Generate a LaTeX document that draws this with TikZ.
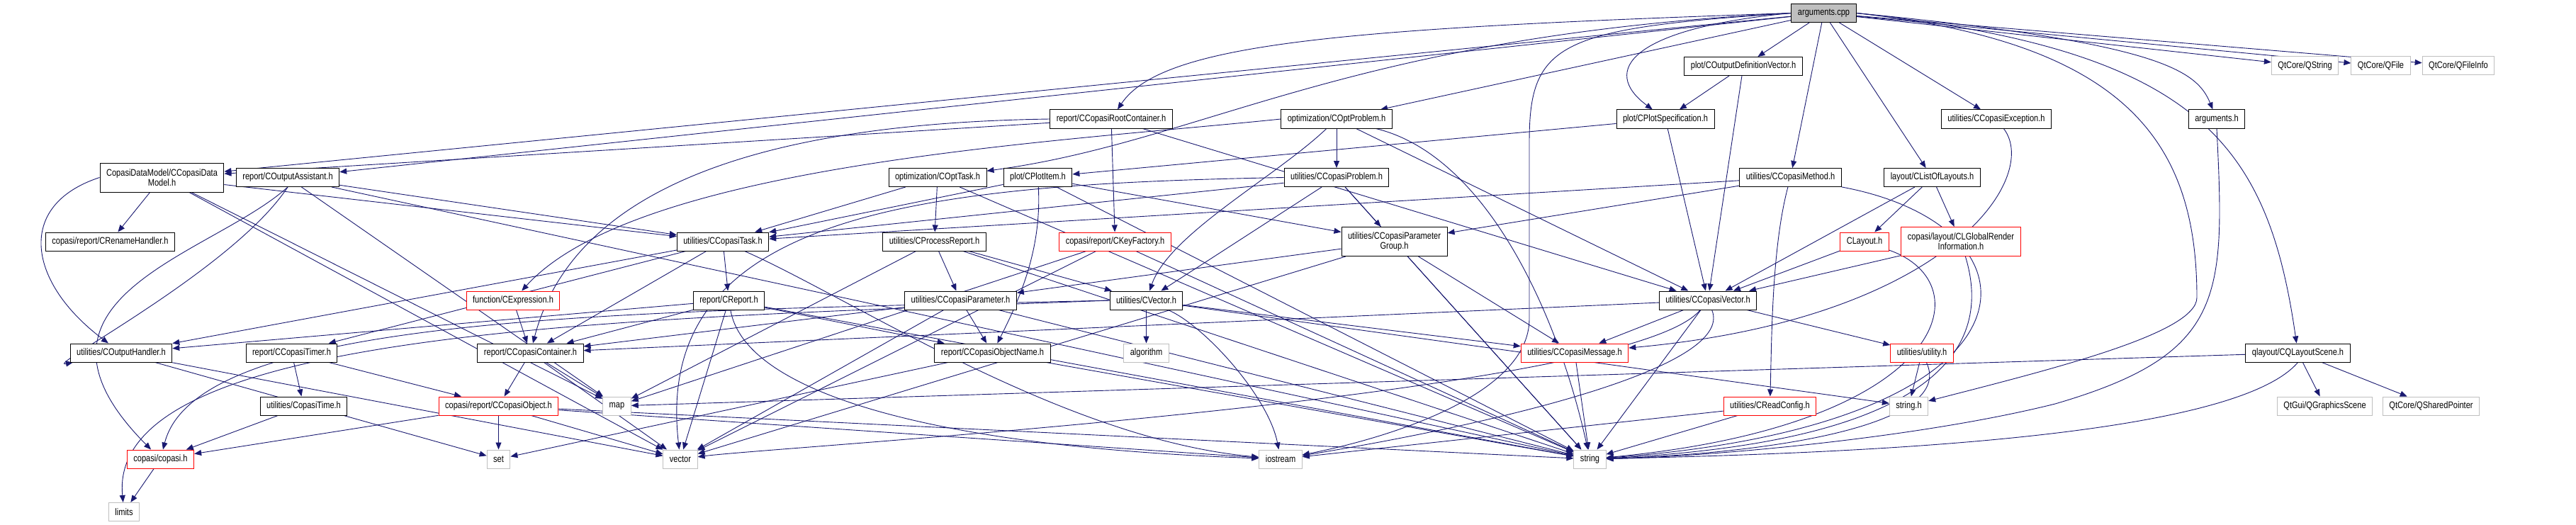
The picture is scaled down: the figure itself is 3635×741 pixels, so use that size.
\documentclass[tikz,border=0pt]{standalone}
\usepackage{fontspec}
\newfontfamily\nf{Liberation Sans}[FakeStretch=0.82]
\usetikzlibrary{arrows.meta}
\definecolor{eblue}{HTML}{191970}
\definecolor{gbord}{HTML}{BFBFBF}
\pgfdeclarelayer{bg}
\pgfsetlayers{bg,main}
\begin{document}
\begin{tikzpicture}[x=1pt,y=-1pt,
 every node/.style={font=\nf\fontsize{13.5}{14}\selectfont},
 box/.style={draw=black, fill=white, line width=1pt, inner xsep=9pt, inner ysep=0pt, minimum height=26pt, align=center},
 trunc/.style={box, draw=red},
 ext/.style={box, draw=gbord},
 root/.style={box, fill=gbord},
 two/.style={minimum height=41pt},
 edg/.style={draw=eblue, line width=0.9pt, -{Triangle[length=10pt,width=8pt]}},
]
\useasboundingbox (0,0) rectangle (3635,741);
% row 0
\node[root] (A) at (2573.5,18.5) {arguments.cpp};
% row 1
\node[box] (ODV) at (2460,93.5) {plot/COutputDefinitionVector.h};
\node[ext] (QS) at (3252.5,93) {QtCore/QString};
\node[ext] (QF) at (3359.5,93) {QtCore/QFile};
\node[ext] (QFI) at (3469,93) {QtCore/QFileInfo};
% row 2
\node[box] (RC) at (1568,168) {report/CCopasiRootContainer.h};
\node[box] (OP) at (1886,168) {optimization/COptProblem.h};
\node[box] (PS) at (2350,168) {plot/CPlotSpecification.h};
\node[box] (CE) at (2817,168) {utilities/CCopasiException.h};
\node[box] (AH) at (3128,168) {arguments.h};
% row 3
\node[box,two] (DM) at (228.5,250.5) {CopasiDataModel/CCopasiData\\Model.h};
\node[box] (OA) at (406,250.5) {report/COutputAssistant.h};
\node[box] (OT) at (1323,250.5) {optimization/COptTask.h};
\node[box] (PI) at (1464.5,250.5) {plot/CPlotItem.h};
\node[box] (CP) at (1886,250.5) {utilities/CCopasiProblem.h};
\node[box] (CM) at (2526.5,250.5) {utilities/CCopasiMethod.h};
\node[box] (LL) at (2726.5,250.5) {layout/CListOfLayouts.h};
% row 4
\node[box] (RH) at (155.5,341) {copasi/report/CRenameHandler.h};
\node[box] (CT) at (1020,341) {utilities/CCopasiTask.h};
\node[box] (PR) at (1318.5,341) {utilities/CProcessReport.h};
\node[trunc] (KF) at (1573.5,341) {copasi/report/CKeyFactory.h};
\node[box,two] (PG) at (1967.5,341) {utilities/CCopasiParameter\\Group.h};
\node[trunc] (LA) at (2631,341) {CLayout.h};
\node[trunc,two] (GR) at (2767,341) {copasi/layout/CLGlobalRender\\Information.h};
% row 5
\node[trunc] (EX) at (724,424) {function/CExpression.h};
\node[box] (RP) at (1028.5,424) {report/CReport.h};
\node[box] (PA) at (1355.5,424) {utilities/CCopasiParameter.h};
\node[box] (CV) at (1617.5,424) {utilities/CVector.h};
\node[box] (VE) at (2410,424) {utilities/CCopasiVector.h};
% row 6
\node[box] (OH) at (171,498) {utilities/COutputHandler.h};
\node[box] (TM) at (411.5,498) {report/CCopasiTimer.h};
\node[box] (CC) at (748.5,498) {report/CCopasiContainer.h};
\node[box] (ON) at (1400.5,498) {report/CCopasiObjectName.h};
\node[ext] (ALG) at (1617.5,498) {algorithm};
\node[trunc] (MS) at (2222,498) {utilities/CCopasiMessage.h};
\node[trunc] (UT) at (2712,498) {utilities/utility.h};
\node[box] (QL) at (3242.5,498) {qlayout/CQLayoutScene.h};
% row 7
\node[box] (TI) at (428.5,573) {utilities/CopasiTime.h};
\node[trunc] (OB) at (703.5,573) {copasi/report/CCopasiObject.h};
\node[ext] (MAP) at (870.5,573) {map};
\node[trunc] (RCF) at (2497.5,573) {utilities/CReadConfig.h};
\node[ext] (SH) at (2693.5,573) {string.h};
\node[ext] (QGS) at (3280.5,573) {QtGui/QGraphicsScene};
\node[ext] (QSP) at (3430.5,573) {QtCore/QSharedPointer};
% row 8
\node[trunc] (CO) at (226.5,648) {copasi/copasi.h};
\node[ext] (SET) at (703.5,648) {set};
\node[ext] (VEC) at (960,648) {vector};
\node[ext] (IOS) at (1807,648) {iostream};
\node[ext] (STR) at (2243.5,648) {string};
% row 9
\node[ext] (LI) at (175,722.5) {limits};

\begin{pgfonlayer}{bg}
% arguments.cpp
\draw[edg] (A) -- (DM);
\draw[edg] (A) -- (OA);
\draw[edg] (A.west) .. controls (1900,40) and (1640,60) .. (RC);
\draw[edg] (A.west) .. controls (1900,50) and (1700,200) .. (OT);
\draw[edg] (A) -- (OP);
\draw[edg] (A.west) .. controls (2300,40) and (2258,100) .. (PS);
\draw[edg] (A) -- (ODV);
\draw[edg] (A) -- (CM);
\draw[edg] (A) -- (LL);
\draw[edg] (A) -- (CE);
\draw[edg] (A.east) .. controls (3050,60) and (3100,100) .. (AH);
\draw[edg] (A) -- (QS);
\draw[edg] (A) -- (QF);
\draw[edg] (A) -- (QFI);
\draw[edg] (A.east) .. controls (3100,70) and (3200,200) .. (QL);
\draw[edg] (A.east) .. controls (3000,60) and (3100,200) .. (3100,420) .. controls (3100,470) and (2900,520) .. (SH);
\draw[edg] (A.west) .. controls (2200,40) and (2158,60) .. (2158,200) -- (2158,450) .. controls (2158,560) and (1950,620) .. (IOS);
% DM
\draw[edg] (DM) -- (RH);
\draw[edg] (DM.west) .. controls (20,290) and (40,400) .. (OH);
\draw[edg] (DM) -- (CT);
\draw[edg] (DM) -- (MAP);
\draw[edg] (DM) -- (VEC);
% OA
\draw[edg] (OA) -- (CT);
\draw[edg] (OA) -- (MAP);
\draw[edg] (OA) -- (STR);
\draw[edg] (OA.south) .. controls (300,360) and (0,420) .. (CO);
\draw[edg] (OA.south) .. controls (330,380) and (60,520) .. (OH);
% RC
\draw[edg] (RC) -- (DM);
\draw[edg] (RC) -- (KF);
\draw[edg] (RC) -- (VE);
\draw[edg] (RC.west) .. controls (1000,175) and (800,300) .. (CC);
% OT
\draw[edg] (OT) -- (CT);
\draw[edg] (OT) -- (PR);
\draw[edg] (OT) -- (STR);
% PI
\draw[edg] (PI) -- (PG);
\draw[edg] (PI) .. controls (1470,350) and (1440,420) .. (ON);
\draw[edg] (PI) -- (CT);
\draw[edg] (PI) -- (STR);
% PR
\draw[edg] (PR) -- (PA);
\draw[edg] (PR) -- (CV);
\draw[edg] (PR) -- (STR);
\draw[edg] (PR) -- (MAP);
% KF
\draw[edg] (KF) -- (MAP);
\draw[edg] (KF) -- (VEC);
\draw[edg] (KF) -- (STR);
% OP
\draw[edg] (OP) -- (CP);
\draw[edg] (OP.west) .. controls (1500,200) and (900,230) .. (EX);
\draw[edg] (OP) .. controls (1800,250) and (1650,330) .. (CV);
\draw[edg] (OP) -- (VE);
\draw[edg] (OP) .. controls (2100,220) and (2200,450) .. (STR);
% CP
\draw[edg] (CP) -- (PG);
\draw[edg] (CP) -- (CT);
\draw[edg] (CP) -- (CV);
\draw[edg] (CP) -- (STR);
\draw[edg] (CP.west) .. controls (1300,260) and (920,300) .. (VEC);
% PG
\draw[edg] (PG) -- (PA);
\draw[edg] (PG) -- (VEC);
\draw[edg] (PG) -- (STR);
\draw[edg] (PG) -- (MS);
% PS, ODV
\draw[edg] (PS) -- (PI);
\draw[edg] (PS) -- (VE);
\draw[edg] (ODV) -- (PS);
\draw[edg] (ODV) -- (VE);
% CM
\draw[edg] (CM) -- (PG);
\draw[edg] (CM) -- (CT);
\draw[edg] (CM) .. controls (2500,350) and (2500,480) .. (RCF);
\draw[edg] (CM) .. controls (2900,320) and (2900,600) .. (STR);
% LL, LA, GR
\draw[edg] (LL) -- (LA);
\draw[edg] (LL) -- (GR);
\draw[edg] (LL) -- (VE);
\draw[edg] (LA) -- (VE);
\draw[edg] (LA) .. controls (2800,400) and (2750,600) .. (STR);
\draw[edg] (GR) -- (VE);
\draw[edg] (GR) .. controls (2800,450) and (2800,620) .. (STR);
% CE, AH, QL
\draw[edg] (CE) .. controls (2880,250) and (2750,450) .. (MS);
\draw[edg] (AH.south) .. controls (3140,420) and (3140,500) .. (2900,570) .. controls (2700,620) and (2400,645) .. (STR);
\draw[edg] (QL) -- (MAP);
\draw[edg] (QL.south) .. controls (3150,620) and (2600,640) .. (STR);
\draw[edg] (QL) -- (QGS);
\draw[edg] (QL) -- (QSP);
% CT
\draw[edg] (CT) -- (OH);
\draw[edg] (CT) -- (TM);
\draw[edg] (CT) -- (RP);
\draw[edg] (CT) -- (CC);
\draw[edg] (CT) .. controls (1200,420) and (1500,620) .. (IOS);
% TM, TI, EX
\draw[edg] (TM) -- (TI);
\draw[edg] (TM) -- (OB);
\draw[edg] (TI) -- (CO);
\draw[edg] (EX) -- (CC);
% RP
\draw[edg] (RP) -- (OH);
\draw[edg] (RP) -- (CC);
\draw[edg] (RP) -- (VEC);
\draw[edg] (RP) .. controls (1050,550) and (1300,630) .. (IOS);
\draw[edg] (RP) -- (STR);
\draw[edg] (RP) -- (ON);
% PA
\draw[edg] (PA) -- (CC);
\draw[edg] (PA) -- (ON);
\draw[edg] (PA) -- (STR);
\draw[edg] (PA) -- (VEC);
% CV
\draw[edg] (CV) -- (ALG);
\draw[edg] (CV) .. controls (1700,460) and (1790,560) .. (IOS);
\draw[edg] (CV) -- (MS);
\draw[edg] (CV.west) .. controls (900,440) and (280,440) .. (CO);
\draw[edg] (CV.west) .. controls (900,450) and (150,460) .. (LI);
\draw[edg] (CV) -- (SH);
% VE
\draw[edg] (VE) -- (MS);
\draw[edg] (VE) -- (UT);
\draw[edg] (VE) -- (CC);
\draw[edg] (VE) .. controls (2450,520) and (2100,600) .. (IOS);
\draw[edg] (VE) .. controls (2300,560) and (1100,630) .. (VEC);
\draw[edg] (VE) -- (STR);
% OH, CC, OB, ON
\draw[edg] (OH) -- (SET);
\draw[edg] (OH) -- (VEC);
\draw[edg] (CC) -- (OB);
\draw[edg] (CC) -- (MAP);
\draw[edg] (CC) -- (VEC);
\draw[edg] (OB) -- (SET);
\draw[edg] (OB) -- (VEC);
\draw[edg] (OB) -- (CO);
\draw[edg] (OB) -- (STR);
\draw[edg] (OB) -- (IOS);
\draw[edg] (ON) -- (SET);
\draw[edg] (ON) -- (STR);
% MS, UT, RCF, CO
\draw[edg] (MS) -- (STR);
\draw[edg] (UT) -- (SH);
\draw[edg] (UT) .. controls (2760,600) and (2500,640) .. (STR);
\draw[edg] (RCF) -- (STR);
\draw[edg] (RCF) -- (IOS);
\draw[edg] (CO) -- (LI);
\end{pgfonlayer}
\end{tikzpicture}
\end{document}
